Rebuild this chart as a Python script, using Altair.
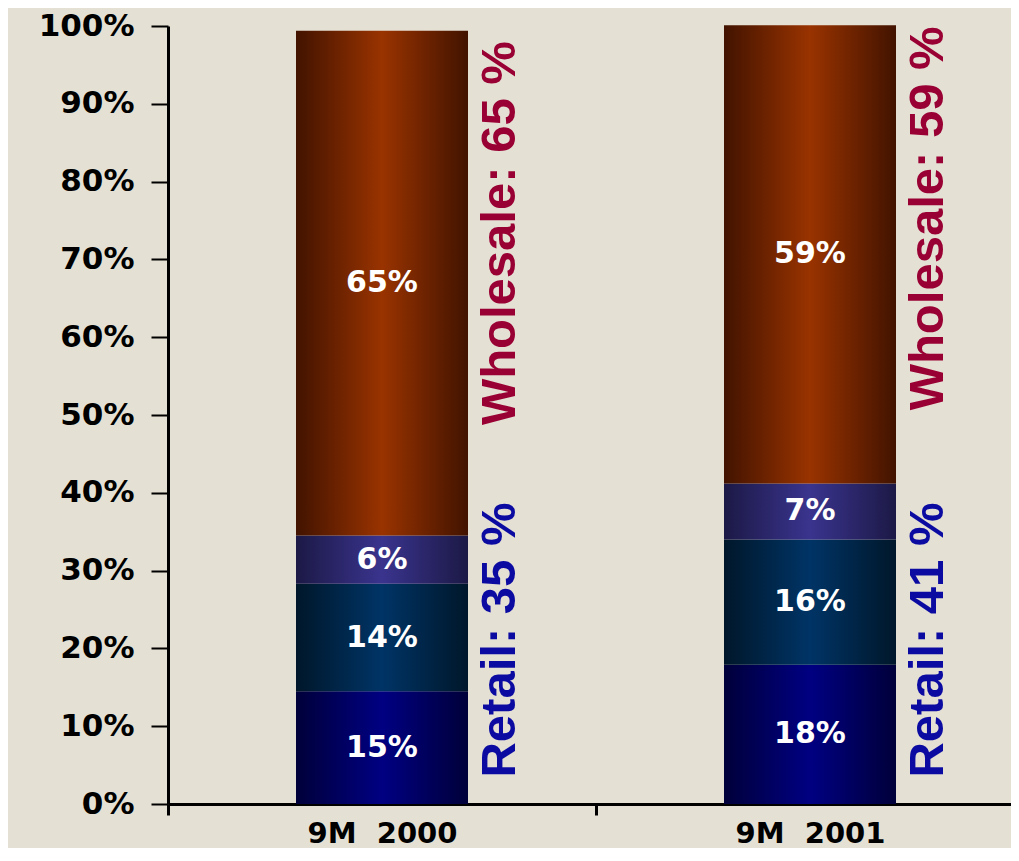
import altair as alt
import pandas as pd

# ---- data ----
categories = ["9M 2000", "9M 2001"]
segments = ["Retail 1", "Retail 2", "Retail 3", "Wholesale"]
values_2000 = [14.5, 13.8, 6.2, 64.9]
values_2001 = [17.9, 16.1, 7.2, 58.9]
labels_2000 = ["15%", "14%", "6%", "65%"]
labels_2001 = ["18%", "16%", "7%", "59%"]

side_cats = ["9M 2000", "9M 2000", "9M 2001", "9M 2001"]
side_groups = ["Retail", "Wholesale", "Retail", "Wholesale"]
side_texts = ["Retail: 35 %", "Wholesale: 65 %", "Retail: 41 %", "Wholesale: 59 %"]
side_start = [3.4, 48.7, 3.4, 50.6]

# ---- styles ----
BG = "#E5E0D4"
edge_center = {
    "Retail 1": ("#00003a", "#000082"),
    "Retail 2": ("#00172a", "#003466"),
    "Retail 3": ("#1c1946", "#3a348e"),
    "Wholesale": ("#421300", "#993300"),
}


def grad(seg):
    e, c = edge_center[seg]
    return alt.Gradient(
        gradient="linear",
        stops=[
            alt.GradientStop(offset=0, color=e),
            alt.GradientStop(offset=0.5, color=c),
            alt.GradientStop(offset=1, color=e),
        ],
        x1=0, x2=1, y1=0, y2=0,
    )


rows = []
for cat, vals, labs in [(categories[0], values_2000, labels_2000),
                        (categories[1], values_2001, labels_2001)]:
    for i, (s, v, l) in enumerate(zip(segments, vals, labs)):
        rows.append({"cat": cat, "seg": s, "value": v, "label": l, "order": i})
df = pd.DataFrame(rows)

side_df = pd.DataFrame({"cat": side_cats, "group": side_groups,
                        "text": side_texts, "start": side_start})

x_enc = alt.X(
    "cat:N", sort=categories,
    scale=alt.Scale(paddingInner=0, paddingOuter=0, range=[0, 856]),
    axis=alt.Axis(
        title=None, labelAngle=0, tickBand="extent", tickSize=11, tickWidth=3,
        tickColor="black", domainColor="black", domainWidth=3,
        labelFont="DejaVu Sans", labelFontWeight="bold", labelFontSize=29,
        labelColor="black", labelPadding=4,
        labelExpr="replace(datum.label, ' ', '\u00a0\u00a0')",
    ),
)
y_scale = alt.Scale(domain=[0, 100], nice=False)
y_axis = alt.Axis(
    values=list(range(0, 101, 10)), labelExpr="datum.value + '%'", title=None,
    grid=False, domainColor="black", domainWidth=3, tickColor="black",
    tickWidth=2, tickSize=17, labelFont="DejaVu Sans", labelFontWeight="bold",
    labelFontSize=31, labelColor="black", labelPadding=17,
)

base = alt.Chart(df).transform_stack(
    stack="value", groupby=["cat"], as_=["y0", "y1"],
    sort=[alt.SortField("order", order="ascending")],
)

layers = []
for s in segments:
    layers.append(
        base.transform_filter(alt.datum.seg == s)
        .mark_bar(size=172, color=grad(s))
        .encode(x=x_enc, y=alt.Y("y0:Q", scale=y_scale, axis=y_axis), y2="y1:Q")
    )

values_text = base.transform_calculate(mid="(datum.y0 + datum.y1) / 2").mark_text(
    color="white", font="DejaVu Sans", fontWeight="bold", fontSize=30, baseline="middle"
).encode(x=x_enc, y=alt.Y("mid:Q", scale=y_scale, axis=y_axis), text="label:N")

side_text = alt.Chart(side_df).mark_text(
    angle=270, align="left", baseline="middle", dy=118,
    font="Liberation Sans", fontWeight="bold", fontSize=49,
).encode(
    x=x_enc,
    y=alt.Y("start:Q", scale=y_scale, axis=y_axis),
    text="text:N",
    color=alt.Color("group:N", scale=alt.Scale(domain=["Retail", "Wholesale"],
                                               range=["#0B0BA2", "#990033"]), legend=None),
)

chart = alt.layer(*layers, values_text, side_text).properties(
    width=843, height=778,
    autosize=alt.AutoSizeParams(type="none"),
    padding={"left": 160, "top": 18, "right": 0, "bottom": 44},
    background=BG,
).configure_view(stroke=None)

chart.save("out.html", embed_options={"renderer": "svg", "actions": False})
